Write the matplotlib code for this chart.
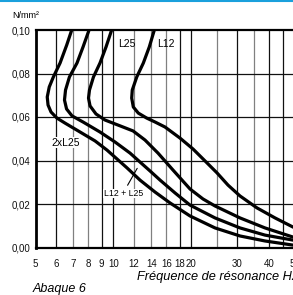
import matplotlib
matplotlib.use("Agg")
import matplotlib.pyplot as plt
from matplotlib.lines import Line2D

# ---- data ----
x_ticks = [5, 6, 7, 8, 9, 10, 12, 14, 16, 18, 20, 30, 40, 50]
x_ticklabels = ["5", "6", "7", "8", "9", "10", "12", "14", "16", "18", "20", "30", "40", "50"]
x_grid = [6, 7, 8, 9, 10, 12, 14, 16, 18, 20, 25, 30, 35, 40, 45, 50]
y_ticks = [0.00, 0.02, 0.04, 0.06, 0.08, 0.10]
y_ticklabels = ["0,00", "0,02", "0,04", "0,06", "0,08", "0,10"]

# L12
l12_freq = [14.38, 13.75, 13.04, 12.30, 11.82, 11.76, 11.93, 12.47, 13.44, 14.47, 15.81,
            18.07, 20.28, 22.57, 25.11, 27.68, 30.80, 35.83, 42.05, 49.34, 60.0]
l12_load = [0.1000, 0.0922, 0.0848, 0.0784, 0.0724, 0.0687, 0.0646, 0.0618, 0.0595, 0.0577, 0.0554,
            0.0503, 0.0453, 0.0398, 0.0343, 0.0287, 0.0237, 0.0182, 0.0136, 0.0094, 0.0062]
# L25
l25_freq = [9.84, 9.36, 8.87, 8.37, 8.08, 8.01, 8.12, 8.56, 9.28, 10.41, 11.90,
            13.24, 14.86, 16.98, 19.75, 22.17, 24.66, 30.80, 38.46, 49.34, 60.0]
l25_load = [0.1000, 0.0922, 0.0848, 0.0784, 0.0724, 0.0687, 0.0651, 0.0614, 0.0586, 0.0563, 0.0536,
            0.0494, 0.0434, 0.0356, 0.0269, 0.0223, 0.0191, 0.0136, 0.0090, 0.0048, 0.0030]
# L12 + L25
l12l25_freq = [8.05, 7.63, 7.23, 6.76, 6.53, 6.47, 6.59, 6.92, 7.63, 8.87, 10.14,
               11.59, 12.66, 13.84, 15.13, 17.28, 19.75, 24.66, 30.80, 38.46, 49.34, 60.0]
l12l25_load = [0.1000, 0.0922, 0.0848, 0.0784, 0.0724, 0.0678, 0.0637, 0.0605, 0.0577, 0.0531, 0.0485,
               0.0434, 0.0393, 0.0352, 0.0310, 0.0251, 0.0195, 0.0136, 0.0090, 0.0057, 0.0034, 0.0021]
# 2 x L25
l2x25_freq = [6.90, 6.60, 6.22, 5.86, 5.65, 5.55, 5.59, 5.74, 6.05, 6.50, 7.43, 8.49,
              9.44, 10.32, 11.28, 12.66, 14.47, 16.53, 19.75, 24.66, 30.80, 38.46, 49.34, 60.0]
l2x25_load = [0.1000, 0.0931, 0.0848, 0.0784, 0.0738, 0.0692, 0.0655, 0.0623, 0.0595, 0.0572, 0.0531, 0.0490,
              0.0448, 0.0407, 0.0366, 0.0310, 0.0255, 0.0205, 0.0145, 0.0090, 0.0053, 0.0030, 0.0011, 0.0002]

FONT = ["Liberation Sans Narrow", "Liberation Sans", "DejaVu Sans"]
plt.rcParams["font.family"] = FONT

W, H = 293, 295
fig = plt.figure(figsize=(W / 100, H / 100), dpi=100)
fig.patch.set_facecolor("white")

left_px, right_px, top_px, bot_px = 35.5, 315.0, 30.0, 247.5
ax = fig.add_axes([left_px / W, 1 - bot_px / H, (right_px - left_px) / W, (bot_px - top_px) / H])
ax.set_xscale("log")
ax.set_xlim(5, 60)
ax.set_ylim(0, 0.10)

# vertical grid
dark = {6, 9, 10, 18, 20, 30, 40, 45}
for g in x_grid:
    ax.axvline(g, color="#111111" if g in dark else "#808080", lw=0.9, zorder=1)
# horizontal grid
for yv in y_ticks[1:-1]:
    ax.axhline(yv, color="#111111", lw=0.9, zorder=1)

ax.spines["left"].set_linewidth(2.0)
for s in ["top", "bottom"]:
    ax.spines[s].set_linewidth(1.6)
ax.spines["right"].set_visible(False)

ax.set_xticks(x_ticks)
ax.set_xticklabels(x_ticklabels)
ax.xaxis.set_minor_locator(matplotlib.ticker.NullLocator())
ax.set_yticks(y_ticks)
ax.set_yticklabels(y_ticklabels)
ax.tick_params(axis="both", length=0, labelsize=7, colors="#111111")
ax.tick_params(axis="x", pad=8)
ax.tick_params(axis="y", pad=3.5)

for fr, ld in [(l12_freq, l12_load), (l25_freq, l25_load),
               (l12l25_freq, l12l25_load), (l2x25_freq, l2x25_load)]:
    ax.plot(fr, ld, color="black", lw=2.3, solid_joinstyle="round", solid_capstyle="round", zorder=3)

ax.text(11.3, 0.0935, "L25", fontsize=7.5, ha="center", va="center", zorder=4)
ax.text(16.0, 0.0935, "L12", fontsize=7.5, ha="center", va="center", zorder=4)
ax.text(6.55, 0.0482, "2xL25", fontsize=7.5, ha="center", va="center", zorder=4,
        bbox=dict(facecolor="white", edgecolor="none", pad=0.3))
ax.text(10.9, 0.0248, "L12 + L25", fontsize=6.3, ha="center", va="center", zorder=4,
        bbox=dict(facecolor="white", edgecolor="none", pad=0.3))
ax.annotate("", xy=(12.5, 0.0375), xytext=(11.2, 0.0275),
            arrowprops=dict(arrowstyle="-", color="black", lw=0.8), zorder=4)

fig.text(12 / W, 1 - 16 / H, "N/mm²", fontsize=6.5, ha="left", va="center")
fig.text(137 / W, 1 - 277 / H, "Fréquence de résonance Hz", fontsize=9.2, style="italic",
         ha="left", va="center")
fig.text(33 / W, 1 - 289 / H, "Abaque 6", fontsize=9, style="italic", ha="left", va="center")

fig.add_artist(Line2D([0, 1], [1 - 0.8 / H, 1 - 0.8 / H], transform=fig.transFigure,
                      color="#1aa0dc", lw=1.5))

fig.savefig("out.png", dpi=100)
